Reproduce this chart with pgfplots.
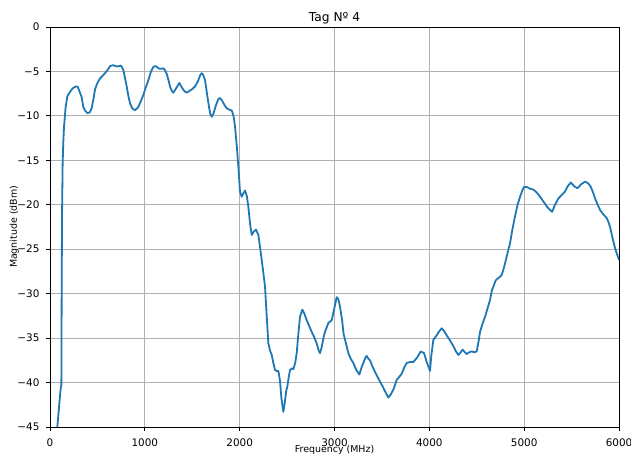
\documentclass[border=0pt]{standalone}
\usepackage{fontspec}
\setmainfont{DejaVu Sans}
\usepackage{pgfplots}
\pgfplotsset{compat=1.18}
\definecolor{mplblue}{HTML}{1F77B4}
\definecolor{gridgray}{HTML}{B0B0B0}
\pgfplotstableread{
f m
77 -45
113 -40.6
120 -40.3
123 -30
127 -21
133 -15.5
140 -13
148 -11.2
165 -9.0
183 -7.8
211 -7.3
240 -6.9
271 -6.7
290 -6.7
306 -7.1
334 -7.9
351 -9.0
369 -9.4
395 -9.7
420 -9.6
439 -9.15
460 -8.0
475 -7.0
500 -6.3
527 -5.8
555 -5.5
580 -5.2
610 -4.8
633 -4.4
668 -4.3
703 -4.45
730 -4.4
749 -4.35
773 -4.85
790 -5.7
809 -6.7
825 -7.7
844 -8.6
870 -9.2
896 -9.35
915 -9.2
931 -9.0
960 -8.3
984 -7.65
1010 -6.8
1037 -6.0
1065 -5.0
1090 -4.5
1110 -4.4
1125 -4.5
1153 -4.7
1175 -4.7
1195 -4.65
1215 -4.9
1231 -5.3
1250 -6.0
1265 -6.7
1285 -7.2
1300 -7.4
1330 -6.9
1364 -6.3
1390 -6.8
1415 -7.2
1441 -7.4
1470 -7.2
1500 -7.0
1529 -6.7
1560 -6.1
1585 -5.4
1599 -5.2
1615 -5.4
1635 -6.0
1655 -7.5
1675 -8.9
1690 -9.8
1705 -10.1
1725 -9.7
1750 -8.8
1775 -8.1
1793 -8.0
1815 -8.3
1840 -8.8
1863 -9.15
1890 -9.3
1916 -9.4
1935 -10.0
1951 -11.2
1970 -13.5
1986 -15.7
2003 -18.5
2021 -19.1
2040 -18.7
2056 -18.4
2075 -19.0
2091 -20.2
2110 -22.2
2127 -23.4
2150 -23.0
2172 -22.8
2197 -23.4
2215 -24.8
2232 -26.2
2250 -27.7
2267 -29.2
2285 -32.5
2302 -35.6
2320 -36.4
2338 -36.9
2355 -37.8
2373 -38.6
2390 -38.7
2408 -38.7
2425 -39.8
2440 -41.8
2460 -43.3
2475 -42.3
2490 -41.0
2503 -40.4
2520 -39.2
2531 -38.6
2550 -38.4
2566 -38.5
2585 -37.8
2601 -36.7
2618 -34.6
2636 -32.6
2661 -31.8
2680 -32.2
2707 -33.0
2735 -33.7
2759 -34.3
2790 -35.0
2812 -35.6
2830 -36.3
2847 -36.7
2865 -36.0
2885 -34.9
2900 -34.3
2935 -33.3
2970 -33.0
2995 -31.8
3023 -30.4
3040 -30.6
3058 -31.5
3080 -33.0
3095 -34.5
3111 -35.2
3146 -36.7
3170 -37.3
3198 -37.8
3230 -38.6
3262 -39.1
3285 -38.3
3304 -37.8
3325 -37.2
3339 -37.0
3355 -37.3
3374 -37.5
3400 -38.2
3427 -38.8
3455 -39.4
3480 -39.9
3505 -40.4
3533 -41.0
3568 -41.7
3595 -41.3
3620 -40.8
3656 -39.7
3680 -39.4
3709 -39.0
3735 -38.3
3761 -37.8
3795 -37.7
3831 -37.7
3870 -37.2
3909 -36.5
3944 -36.7
3972 -37.7
4007 -38.7
4020 -37.0
4042 -35.2
4077 -34.7
4100 -34.3
4130 -33.9
4155 -34.2
4183 -34.7
4220 -35.3
4253 -35.9
4280 -36.5
4306 -36.9
4330 -36.6
4351 -36.3
4375 -36.6
4393 -36.8
4420 -36.6
4446 -36.5
4475 -36.6
4499 -36.5
4520 -35.3
4534 -34.3
4560 -33.4
4587 -32.6
4615 -31.6
4640 -30.7
4660 -29.6
4675 -29.2
4700 -28.5
4721 -28.3
4745 -28.1
4763 -27.9
4780 -27.3
4798 -26.6
4825 -25.4
4851 -24.3
4875 -22.8
4903 -21.3
4930 -20.0
4956 -19.1
4980 -18.4
4998 -18.0
5027 -18.0
5060 -18.2
5097 -18.3
5130 -18.6
5167 -19.1
5200 -19.6
5238 -20.2
5265 -20.5
5294 -20.8
5325 -20.0
5360 -19.3
5395 -18.9
5431 -18.5
5460 -17.9
5491 -17.5
5525 -17.9
5561 -18.15
5600 -17.7
5642 -17.4
5675 -17.6
5702 -18.0
5725 -18.6
5747 -19.3
5775 -20.0
5800 -20.6
5835 -21.1
5870 -21.5
5890 -22.0
5905 -22.5
5930 -23.7
5958 -24.9
5980 -25.6
6000 -26.2
}\datatable
\begin{document}
\begin{tikzpicture}
\begin{axis}[
  scale only axis, width=409.7pt, height=288pt,
  xmin=0, xmax=6000, ymin=-45, ymax=0,
  xtick={0,1000,...,6000}, xticklabels={0,1000,2000,3000,4000,5000,6000},
  ytick={-45,-40,...,0}, yticklabels={−45,−40,−35,−30,−25,−20,−15,−10,−5,0},
  xtick pos=left, ytick pos=left,
  grid=major, grid style={gridgray, line width=0.6pt},
  axis line style={line width=0.6pt},
  tick style={black, line width=0.6pt}, tick align=outside, major tick length=2.6pt,
  tick label style={font=\fontsize{7.5}{9}\selectfont, inner sep=0pt},
  xticklabel shift=5.6pt, yticklabel shift=4.8pt,
  title={Tag Nº 4},
  title style={font=\fontsize{8.8}{10}\selectfont, at={(axis description cs:0.5,1.0143)}, anchor=base, yshift=-6pt},
  xlabel={Frequency (MHz)}, ylabel={Magnitude (dBm)},
  label style={font=\fontsize{6.8}{8}\selectfont},
  xlabel style={at={(axis description cs:0.5,-0.0632)}, anchor=base},
  ylabel style={at={(axis description cs:-0.058,0.5)}, anchor=base},
]
\addplot[mplblue, line width=1.3pt, line join=round] table[x=f, y=m] {\datatable};
\end{axis}
\pgfresetboundingbox
\path[use as bounding box] (-36pt,-20.9pt) rectangle (418.3pt,307.4pt);
\end{tikzpicture}
\end{document}
